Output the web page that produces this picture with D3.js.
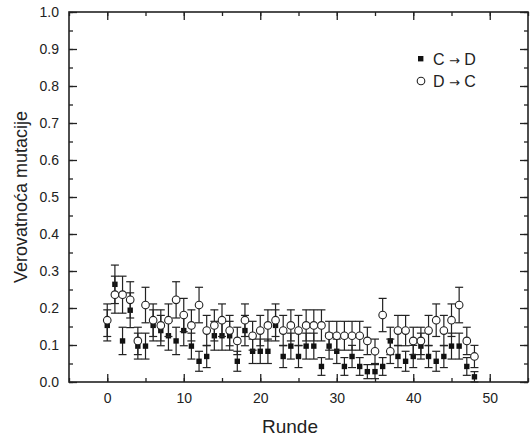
<!DOCTYPE html>
<meta charset="utf-8">
<script src="https://d3js.org/d3.v7.min.js"></script>
<style>
  body { margin: 0; background: #fff; }
  text { font-family: "Liberation Sans", Arial, sans-serif; fill: #222; }
</style>
<div id="chart"></div>
<script>
// Rounds (x values)
var rounds = d3.range(0, 49);

// C -> D (filled squares)
var cdValues = [0.153, 0.264, 0.111, 0.194, 0.097, 0.097, 0.153, 0.139, 0.125, 0.111,
                0.139, 0.097, 0.056, 0.069, 0.125, 0.125, 0.125, 0.056, 0.139, 0.083,
                0.083, 0.083, 0.153, 0.069, 0.097, 0.069, 0.097, 0.097, 0.042, 0.097,
                0.083, 0.042, 0.069, 0.042, 0.028, 0.028, 0.042, 0.111, 0.069, 0.056,
                0.069, 0.097, 0.069, 0.056, 0.069, 0.097, 0.097, 0.042, 0.014];
var cdErrors = [0.042, 0.052, 0.037, 0.047, 0.035, 0.035, 0.042, 0.041, 0.039, 0.037,
                0.041, 0.035, 0.027, 0.030, 0.039, 0.039, 0.039, 0.027, 0.041, 0.033,
                0.033, 0.033, 0.042, 0.030, 0.035, 0.030, 0.035, 0.035, 0.024, 0.035,
                0.033, 0.024, 0.030, 0.024, 0.019, 0.019, 0.024, 0.037, 0.030, 0.027,
                0.030, 0.035, 0.030, 0.027, 0.030, 0.035, 0.035, 0.024, 0.014];

// D -> C (open circles)
var dcValues = [0.167, 0.236, 0.236, 0.222, 0.111, 0.208, 0.167, 0.153, 0.167, 0.222,
                0.181, 0.153, 0.208, 0.139, 0.153, 0.167, 0.139, 0.111, 0.167, 0.125,
                0.139, 0.153, 0.167, 0.139, 0.153, 0.139, 0.153, 0.153, 0.153, 0.125,
                0.125, 0.125, 0.125, 0.125, 0.111, 0.083, 0.181, 0.083, 0.139, 0.139,
                0.111, 0.111, 0.139, 0.167, 0.139, 0.167, 0.208, 0.111, 0.069];
var dcErrors = [0.044, 0.050, 0.050, 0.049, 0.037, 0.048, 0.044, 0.042, 0.044, 0.049,
                0.045, 0.042, 0.048, 0.041, 0.042, 0.044, 0.041, 0.037, 0.044, 0.039,
                0.041, 0.042, 0.044, 0.041, 0.042, 0.041, 0.042, 0.042, 0.042, 0.039,
                0.039, 0.039, 0.039, 0.039, 0.037, 0.033, 0.045, 0.033, 0.041, 0.041,
                0.037, 0.037, 0.041, 0.044, 0.041, 0.044, 0.048, 0.037, 0.030];

var xTicks = [0, 10, 20, 30, 40, 50];
var yTicks = [0, 0.1, 0.2, 0.3, 0.4, 0.5, 0.6, 0.7, 0.8, 0.9, 1.0];

var W = 530, H = 438;
var margin = {top: 12, right: 2, bottom: 56, left: 69};

var svg = d3.select("#chart").append("svg")
    .attr("width", W)
    .attr("height", H);

var x = d3.scaleLinear().domain([-5, 55]).range([margin.left, W - margin.right]);
var y = d3.scaleLinear().domain([0, 1]).range([H - margin.bottom, margin.top]);

// axes: ticks pointing inward, mirrored on top/right
var minorX = d3.range(-5, 56, 5);
var minorY = d3.range(0, 1.0001, 0.05);

function drawAxis(axis, tr, labels) {
  var g = svg.append("g").attr("transform", tr).call(axis);
  g.select(".domain").remove();
  g.selectAll("line").attr("stroke", "#222").attr("stroke-width", 1.3);
  if (!labels) g.selectAll("text").remove();
  return g;
}

// bottom
drawAxis(d3.axisBottom(x).tickValues(minorX).tickSize(-4).tickFormat(""), `translate(0,${y(0)})`, false);
var gx = drawAxis(d3.axisBottom(x).tickValues(xTicks).tickSize(-8).tickPadding(11).tickFormat(d3.format("d")), `translate(0,${y(0)})`, true);
gx.selectAll("text").attr("font-size", 14).attr("font-family", "Liberation Sans, Arial, sans-serif").attr("fill", "#222");
// top
drawAxis(d3.axisTop(x).tickValues(minorX).tickSize(-4), `translate(0,${y(1)})`, false);
drawAxis(d3.axisTop(x).tickValues(xTicks).tickSize(-8), `translate(0,${y(1)})`, false);
// left
drawAxis(d3.axisLeft(y).tickValues(minorY).tickSize(-4).tickFormat(""), `translate(${x(-5)},0)`, false);
var gy = drawAxis(d3.axisLeft(y).tickValues(yTicks).tickSize(-8).tickPadding(10).tickFormat(d3.format(".1f")), `translate(${x(-5)},0)`, true);
gy.selectAll("text").attr("font-size", 14).attr("font-family", "Liberation Sans, Arial, sans-serif").attr("fill", "#222");
// right
drawAxis(d3.axisRight(y).tickValues(minorY).tickSize(-4), `translate(${x(55)},0)`, false);
drawAxis(d3.axisRight(y).tickValues(yTicks).tickSize(-8), `translate(${x(55)},0)`, false);

// frame
svg.append("rect")
    .attr("x", x(-5)).attr("y", y(1))
    .attr("width", x(55) - x(-5)).attr("height", y(0) - y(1))
    .attr("fill", "none").attr("stroke", "#222").attr("stroke-width", 1.6);

// axis titles
svg.append("text")
    .attr("x", 290).attr("y", 433)
    .attr("text-anchor", "middle")
    .attr("font-size", 19)
    .text("Runde");

svg.append("text")
    .attr("transform", `translate(27,${(y(0) + y(1)) / 2}) rotate(-90)`)
    .attr("text-anchor", "middle")
    .attr("font-size", 18)
    .text("Verovatnoća mutacije");

// series
function errorBars(vals, errs) {
  var data = rounds.map((r, i) => ({r: r, v: vals[i], e: errs[i]}));
  var g = svg.append("g").attr("stroke", "#222").attr("stroke-width", 1.2).attr("fill", "none");
  g.selectAll(".v").data(data).join("line")
      .attr("x1", d => x(d.r)).attr("x2", d => x(d.r))
      .attr("y1", d => y(d.v - d.e)).attr("y2", d => y(d.v + d.e));
  g.selectAll(".t").data(data).join("line")
      .attr("x1", d => x(d.r) - 4).attr("x2", d => x(d.r) + 4)
      .attr("y1", d => y(d.v + d.e)).attr("y2", d => y(d.v + d.e));
  g.selectAll(".b").data(data).join("line")
      .attr("x1", d => x(d.r) - 4).attr("x2", d => x(d.r) + 4)
      .attr("y1", d => y(d.v - d.e)).attr("y2", d => y(d.v - d.e));
  return data;
}

var cd = errorBars(cdValues, cdErrors);
svg.append("g").selectAll("rect").data(cd).join("rect")
    .attr("x", d => x(d.r) - 2.7).attr("y", d => y(d.v) - 2.7)
    .attr("width", 5.4).attr("height", 5.4)
    .attr("fill", "#111");

var dc = errorBars(dcValues, dcErrors);
svg.append("g").selectAll("circle").data(dc).join("circle")
    .attr("cx", d => x(d.r)).attr("cy", d => y(d.v))
    .attr("r", 3.8)
    .attr("fill", "#fff").attr("stroke", "#222").attr("stroke-width", 1.1);

// legend
var leg = svg.append("g");
leg.append("rect").attr("x", 418).attr("y", 56).attr("width", 5.4).attr("height", 5.4).attr("fill", "#111");
var t1 = leg.append("text").attr("x", 433).attr("y", 65).attr("font-size", 16);
t1.append("tspan").text("C ");
t1.append("tspan").attr("font-family", "DejaVu Sans").attr("font-size", 13).text("\u2192");
t1.append("tspan").text(" D");
leg.append("circle").attr("cx", 421).attr("cy", 81).attr("r", 3.8)
    .attr("fill", "#fff").attr("stroke", "#222").attr("stroke-width", 1.1);
var t2 = leg.append("text").attr("x", 433).attr("y", 87).attr("font-size", 16);
t2.append("tspan").text("D ");
t2.append("tspan").attr("font-family", "DejaVu Sans").attr("font-size", 13).text("\u2192");
t2.append("tspan").text(" C");
</script>
